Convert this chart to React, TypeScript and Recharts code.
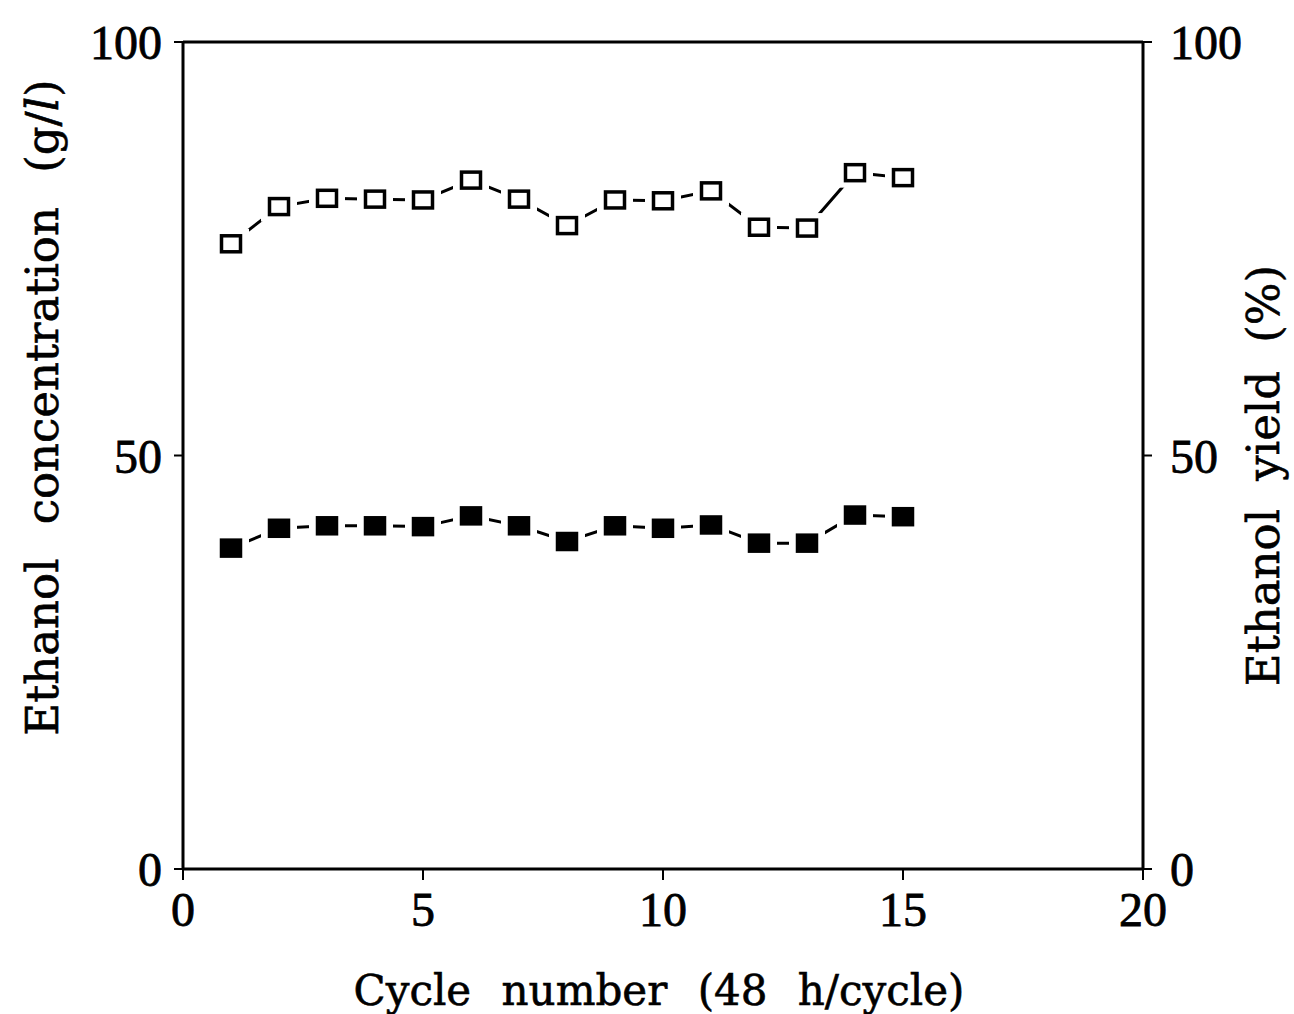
import { ComposedChart, Line, XAxis, YAxis, ReferenceLine } from "recharts"

const cycles = [1, 2, 3, 4, 5, 6, 7, 8, 9, 10, 11, 12, 13, 14, 15]
// ethanol concentration, g/l (filled squares)
const concentration = [38.8, 41.2, 41.5, 41.5, 41.4, 42.7, 41.5, 39.6, 41.5, 41.2, 41.6, 39.4, 39.4, 42.8, 42.6]
// ethanol yield, % (open squares)
const ethanolYield = [75.6, 80.1, 81.1, 81.0, 80.9, 83.3, 81.0, 77.8, 80.9, 80.8, 82.0, 77.6, 77.5, 84.2, 83.6]

const xTicks = [0, 5, 10, 15, 20]
const yTicks = [0, 50, 100]

const data = cycles.map((c, i) => ({
  cycle: c,
  concentration: concentration[i],
  ethanolYield: ethanolYield[i],
}))

const TICK_FONT = "'Liberation Serif', serif"
const TITLE_FONT = "'DejaVu Serif', serif"
const INK = "#000"

function Square({ cx, cy, filled }: { cx?: number; cy?: number; filled?: boolean }) {
  if (cx == null || cy == null) return null
  return (
    <g>
      {/* white halo keeps the connecting line off the marker */}
      <rect x={cx - 18} y={cy - 15} width={36} height={30} fill="#fff" />
      <rect
        x={cx - 9.5}
        y={cy - 8}
        width={19}
        height={16}
        fill={filled ? INK : "#fff"}
        stroke={INK}
        strokeWidth={3.5}
      />
    </g>
  )
}

function VerticalTitle({ viewBox, dxAbs, shift, spacing, children }: any) {
  const { y, height } = viewBox
  const py = y + height / 2 + shift
  return (
    <text
      transform={`translate(${dxAbs},${py}) rotate(-90)`}
      textAnchor="middle"
      dominantBaseline="central"
      fontFamily={TITLE_FONT}
      fontSize={45}
      fill={INK}
      stroke={INK}
      strokeWidth={0.6}
      wordSpacing={spacing}
    >
      {children}
    </text>
  )
}

export default function App() {
  const tickStyle = { fontFamily: TICK_FONT, fontSize: 48, fill: INK, stroke: INK, strokeWidth: 0.8 }
  return (
    <div style={{ position: "absolute", left: 0, top: 0, background: "#fff" }}>
      <ComposedChart
        width={1294}
        height={1014}
        data={data}
        margin={{ top: 42, right: 0, bottom: 0, left: 0 }}
      >
        <XAxis
          dataKey="cycle"
          type="number"
          domain={[0, 20]}
          ticks={xTicks}
          height={145}
          tickSize={11}
          tickMargin={12}
          tick={tickStyle}
          axisLine={{ stroke: INK, strokeWidth: 3 }}
          tickLine={{ stroke: INK, strokeWidth: 2 }}
          label={{
            content: ({ viewBox }: any) => (
              <text
                x={viewBox.x + viewBox.width / 2 - 4}
                y={1005}
                textAnchor="middle"
                fontFamily={TITLE_FONT}
                fontSize={42}
                fill={INK}
                stroke={INK}
                strokeWidth={0.6}
                wordSpacing={17}
              >
                Cycle number (48 h/cycle)
              </text>
            ),
          }}
        />
        <YAxis
          yAxisId="left"
          domain={[0, 100]}
          ticks={yTicks}
          width={183}
          tickSize={9}
          tickMargin={12}
          tick={tickStyle}
          axisLine={{ stroke: INK, strokeWidth: 3 }}
          tickLine={{ stroke: INK, strokeWidth: 2 }}
          label={{
            content: ({ viewBox }: any) => (
              <VerticalTitle viewBox={viewBox} dxAbs={42} shift={-48} spacing={20}>
                Ethanol concentration (g/<tspan fontStyle="italic">l</tspan>)
              </VerticalTitle>
            ),
          }}
        />
        <YAxis
          yAxisId="right"
          orientation="right"
          domain={[0, 100]}
          ticks={yTicks}
          width={151}
          tickSize={9}
          tickMargin={18}
          tick={tickStyle}
          axisLine={{ stroke: INK, strokeWidth: 3 }}
          tickLine={{ stroke: INK, strokeWidth: 2 }}
          label={{
            content: ({ viewBox }: any) => (
              <VerticalTitle viewBox={viewBox} dxAbs={1263} shift={20} spacing={14}>
                Ethanol yield (%)
              </VerticalTitle>
            ),
          }}
        />
        <ReferenceLine yAxisId="left" y={100} stroke={INK} strokeWidth={3} />
        <Line
          yAxisId="right"
          dataKey="ethanolYield"
          stroke={INK}
          strokeWidth={3}
          isAnimationActive={false}
          dot={(p: any) => <Square key={`o${p.index}`} cx={p.cx} cy={p.cy} />}
        />
        <Line
          yAxisId="left"
          dataKey="concentration"
          stroke={INK}
          strokeWidth={3}
          isAnimationActive={false}
          dot={(p: any) => <Square key={`f${p.index}`} cx={p.cx} cy={p.cy} filled />}
        />
      </ComposedChart>
    </div>
  )
}
